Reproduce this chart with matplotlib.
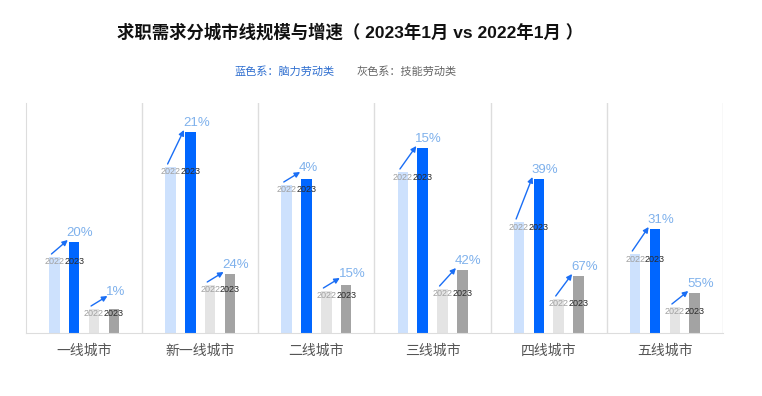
import matplotlib.pyplot as plt
import numpy as np

plt.rcParams['font.family'] = ['Liberation Sans', 'Noto Sans CJK SC', 'DejaVu Sans']

# data (bar heights, arbitrary units)
cities = ['一线城市', '新一线城市', '二线城市', '三线城市', '四线城市', '五线城市']
mental_2022 = [76, 166, 148, 161, 111, 79]
mental_2023 = [91, 201, 154, 185, 154, 104]
skill_2022 = [24, 48, 42, 44, 34, 26]
skill_2023 = [24, 59, 48, 63, 57, 40]
mental_growth = ['20%', '21%', '4%', '15%', '39%', '31%']
skill_growth = ['1%', '24%', '15%', '42%', '67%', '55%']

fig = plt.figure(figsize=(7.62, 3.96), dpi=100)
ax = fig.add_axes([26 / 762, 63 / 396, 697 / 762, 230 / 396])

x = np.arange(len(cities))
w = 0.09
off_in = 0.085
off_out = 0.256

ax.bar(x - off_out, mental_2022, width=w, color='#cde1fd', zorder=2)
ax.bar(x - off_in, mental_2023, width=w, color='#0066ff', zorder=2)
ax.bar(x + off_in, skill_2022, width=w, color='#e4e4e4', zorder=2)
ax.bar(x + off_out, skill_2023, width=w, color='#a3a3a3', zorder=2)

arrow_col = '#1a6ef5'
for i in range(len(cities)):
    pairs = [
        (x[i] - off_out, x[i] - off_in, mental_2022[i], mental_2023[i], mental_growth[i]),
        (x[i] + off_in, x[i] + off_out, skill_2022[i], skill_2023[i], skill_growth[i]),
    ]
    for x0, x1, h0, h1, lab in pairs:
        # year labels sit at the level of the 2022 bar
        ax.text(x0, h0 - 5, '2022', ha='center', va='center', fontsize=6.5,
                color='#a0a0a0', zorder=4)
        ax.text(x1, h0 - 5, '2023', ha='center', va='center', fontsize=6.5,
                color='#2a2a2a', zorder=4)
        sy = h0 + 3
        ey = max(h1 + 2, h0 + 13)
        ax.annotate('', xy=(x1 - w / 2 - 0.01, ey), xytext=(x0 - w / 2 + 0.02, sy),
                    arrowprops=dict(arrowstyle='-|>', color=arrow_col, lw=1,
                                    mutation_scale=8, shrinkA=0, shrinkB=0),
                    zorder=5)
        ax.text(x1 - w / 2 - 0.02, max(h1 + 9, ey + 4), lab, ha='left', va='center',
                fontsize=9.5, color='#7fb1ec', zorder=5)

ax.set_xlim(-0.5, len(cities) - 0.5)
ax.set_ylim(0, 230)
for b in np.arange(0.5, len(cities), 1):
    ax.axvline(b, color='#dddddd', lw=1, zorder=1)
ax.spines['top'].set_visible(False)
ax.spines['right'].set_visible(False)
ax.spines['left'].set_color('#dddddd')
ax.spines['bottom'].set_color('#dddddd')
ax.set_yticks([])
ax.set_xticks(x)
ax.set_xticklabels(cities, fontsize=10, color='#555555')
ax.tick_params(axis='x', length=0, pad=8)

fig.text(117 / 762, 1 - 32 / 396, '求职需求分城市线规模与增速（ 2023年1月 vs 2022年1月 ）',
         ha='left', va='center', fontsize=12.5, fontweight='bold', color='#111111')
fig.text(335 / 762, 1 - 72 / 396, '蓝色系：脑力劳动类', ha='right', va='center',
         fontsize=8, color='#2f6fd0')
fig.text(357 / 762, 1 - 72 / 396, '灰色系：技能劳动类', ha='left', va='center',
         fontsize=8, color='#666666')

fig.savefig('out.png', dpi=100)
